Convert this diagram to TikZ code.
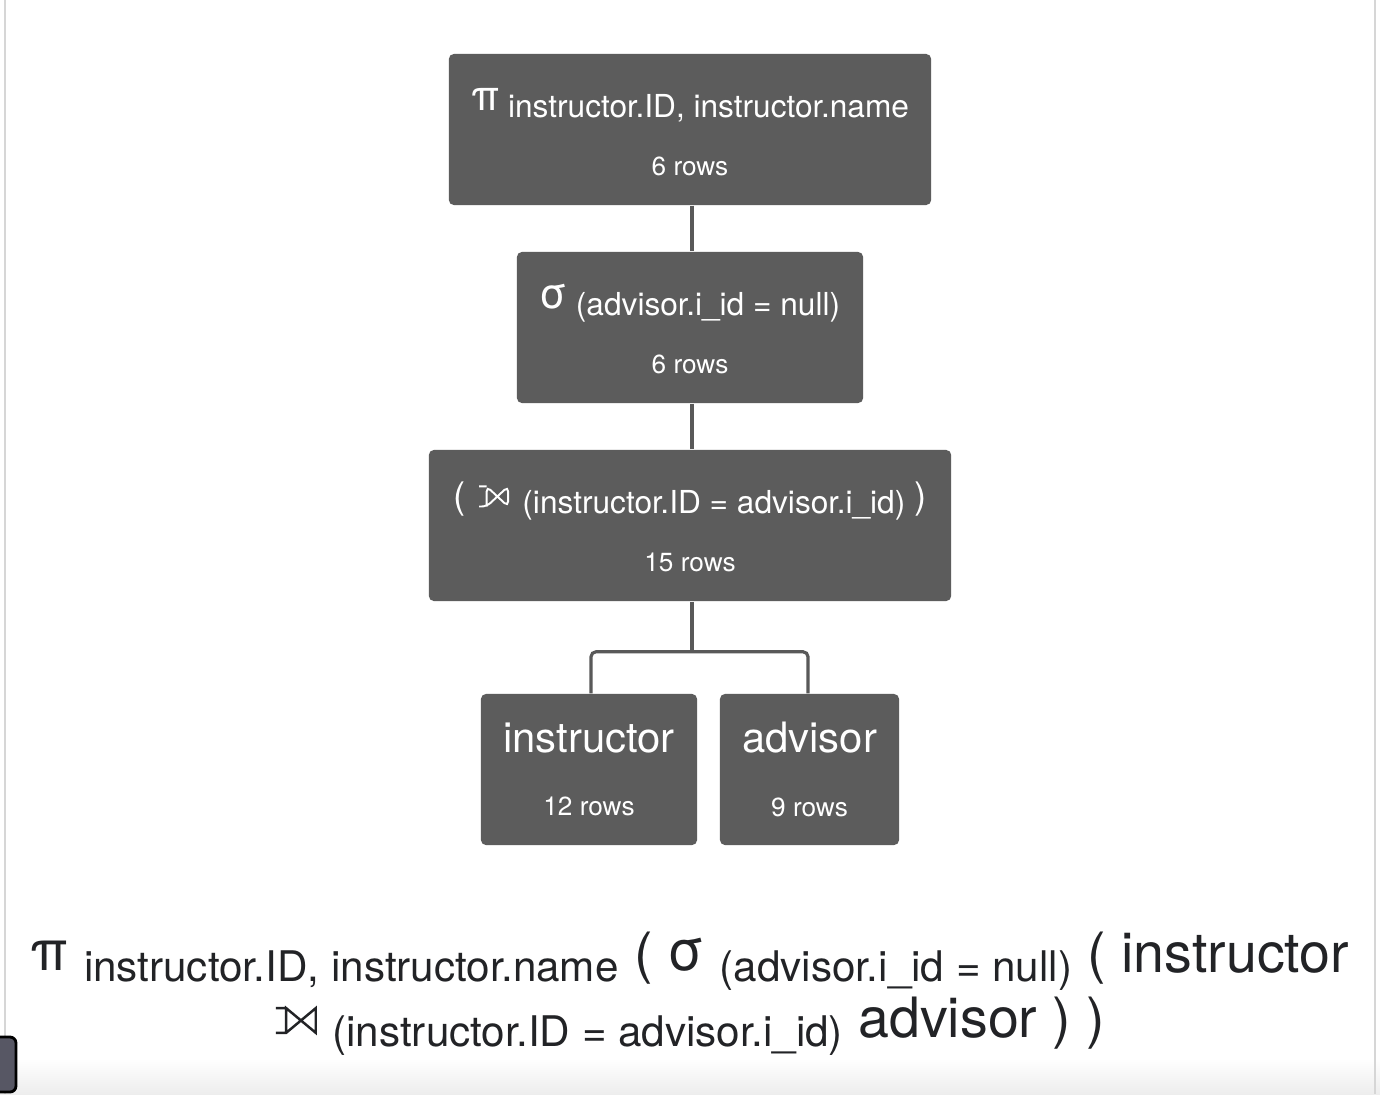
\documentclass[tikz,border=0pt]{standalone}
\usepackage{fontspec}
\setmainfont{TeX Gyre Heros}
\usepackage{xcolor}
\definecolor{boxgray}{HTML}{5C5C5C}
\definecolor{edgegray}{HTML}{595959}
\definecolor{inkdark}{HTML}{222326}
\definecolor{framegray}{HTML}{D6D6D6}

\newcommand{\opsym}[1]{\rule{0pt}{9.8pt}\raisebox{2pt}{\fontsize{12}{12}\selectfont #1}}
\newcommand{\bigsym}[1]{\raisebox{0.3pt}{\fontsize{16}{16}\selectfont #1}}
\newcommand{\subtxt}[1]{\raisebox{-2.8pt}{\fontsize{12}{14}\selectfont #1}}
\newcommand{\rowcount}[1]{{\fontsize{7.45}{9}\selectfont #1}}
% left outer join sign, drawn
\newcommand{\ljoin}[3]{\tikz[baseline=0pt,x=#1,y=#2,line width=#3,line join=miter]
  \draw (-0.35,0) -- (0,0) -- (1,1) -- (1,0) -- (0,1) -- (0,0) (0,1) -- (-0.35,1);}

\begin{document}
\begin{tikzpicture}[x=0.01cm,y=-0.01cm]
\tikzset{opbox/.style={fill=boxgray,rounded corners=0.05cm,text=white,align=center,
  inner sep=0pt,minimum height=1.51cm,font=\fontsize{9}{13}\selectfont}}
\tikzset{leafbox/.style={opbox,font=\fontsize{11.9}{17}\selectfont}}
\tikzset{edge/.style={draw=edgegray,line width=0.9pt}}
\tikzset{exprline/.style={anchor=base,text=inkdark,inner sep=0pt,font=\fontsize{15.8}{18}\selectfont}}

\useasboundingbox (0,0) rectangle (1380,1094);
\fill[white] (0,0) rectangle (1380,1094);
\shade[top color=white,bottom color=black!7] (0,1058) rectangle (1380,1094);
\draw[framegray,line width=0.45pt] (5,0) -- (5,1094);
\draw[framegray,line width=0.45pt] (1375,0) -- (1375,1094);
\draw[fill=boxgray!95!blue,draw=black,line width=0.8pt,rounded corners=0.06cm] (-10,1037) rectangle (16,1092);

% operator tree
\node[opbox,minimum width=4.82cm] (proj) at (690,129.5)
  {\opsym{π} instructor.ID, instructor.name\\[3.5pt]\rowcount{6 rows}};
\node[opbox,minimum width=3.46cm] (sel) at (690,327.5)
  {\opsym{σ} (advisor.i\_id = null)\\[3.5pt]\rowcount{6 rows}};
\node[opbox,minimum width=5.22cm] (join) at (690,525.5)
  {\rule{0pt}{9.8pt}\raisebox{1.3pt}{\fontsize{10.4}{10.4}\selectfont (}\hspace{1pt} \raisebox{2pt}{\ljoin{6.1pt}{5.7pt}{0.55pt}}\hspace{1.3pt} (instructor.ID = advisor.i\_id) \raisebox{1.3pt}{\fontsize{10.4}{10.4}\selectfont )}\\[3.5pt]\rowcount{15 rows}};
\node[leafbox,minimum width=2.16cm] (inst) at (589,769.5) {instructor\\[1pt]\rowcount{12 rows}};
\node[leafbox,minimum width=1.79cm] (adv) at (809.5,769.5) {advisor\\[1pt]\rowcount{9 rows}};

\draw[edge] ([xshift=0.02cm]proj.south) -- ([xshift=0.02cm]sel.north);
\draw[edge] ([xshift=0.02cm]sel.south) -- ([xshift=0.02cm]join.north);
\draw[edge] ([xshift=0.02cm]join.south) -- ++(0,50) coordinate (fork);
\draw[edge,rounded corners=0.05cm] ([xshift=0.02cm]inst.north) |- (fork) -| ([xshift=-0.015cm]adv.north);

% expression
\node[exprline] (exprA) at (690,972)
  {\bigsym{π} \subtxt{instructor.ID, instructor.name} ( \bigsym{σ} \subtxt{(advisor.i\_id = null)} ( instructor};
\node[exprline] (exprB) at (690,1037)
  {\raisebox{1.2pt}{\ljoin{8.4pt}{7pt}{0.7pt}} \subtxt{(instructor.ID = advisor.i\_id)} advisor ) )};
\end{tikzpicture}
\end{document}
